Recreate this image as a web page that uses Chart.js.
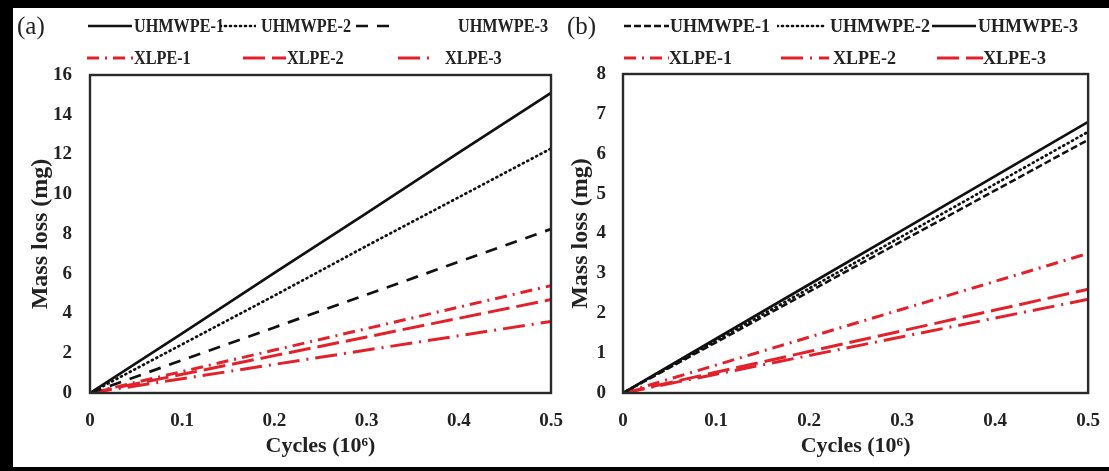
<!DOCTYPE html>
<html><head><meta charset="utf-8">
<script src="https://cdn.jsdelivr.net/npm/chart.js@4.4.1/dist/chart.umd.min.js"></script>
<style>
html,body{margin:0;padding:0;background:#fff;}
body{width:1109px;height:471px;position:relative;overflow:hidden;font-family:"Liberation Serif","Times New Roman",serif;}
.bar{position:absolute;background:#000;}
.cv{position:absolute;top:0;}
.panel{position:absolute;font-size:25px;color:#222;line-height:1;}
.sw{position:absolute;display:block;}
.lt{position:absolute;font-weight:bold;font-size:18px;line-height:20px;height:20px;color:#222;white-space:nowrap;transform-origin:left center;}
</style></head>
<body>
<div class="bar" style="left:0;top:0;width:1109px;height:8px"></div>
<div class="bar" style="left:0;top:0;width:13px;height:471px"></div>
<div class="bar" style="left:0;top:467px;width:1109px;height:4px"></div>
<canvas id="ca" class="cv" style="left:0" width="580" height="471"></canvas>
<canvas id="cb" class="cv" style="left:560px" width="549" height="471"></canvas>
<div class="panel" style="left:17px;top:13px">(a)</div>
<div class="panel" style="left:567px;top:13px">(b)</div>
<div id="legends"></div>
<script>
// ---- data ----
const cycles = [0, 0.1, 0.2, 0.3, 0.4, 0.5];
const xTicks = [0, 0.1, 0.2, 0.3, 0.4, 0.5];
const yTicksA = [0, 2, 4, 6, 8, 10, 12, 14, 16];
const yTicksB = [0, 1, 2, 3, 4, 5, 6, 7, 8];
const namesA = ['UHMWPE-1', 'UHMWPE-2', 'UHMWPE-3', 'XLPE-1', 'XLPE-2', 'XLPE-3'];
const namesB = ['UHMWPE-1', 'UHMWPE-2', 'UHMWPE-3', 'XLPE-1', 'XLPE-2', 'XLPE-3'];
// panel (a)
const aU1 = [0, 3.0, 6.05, 9.05, 12.1, 15.1];
const aU2 = [0, 2.45, 4.9, 7.4, 9.85, 12.3];
const aU3 = [0, 1.65, 3.3, 4.95, 6.6, 8.25];
const aX1 = [0, 1.08, 2.16, 3.24, 4.32, 5.4];
const aX2 = [0, 0.94, 1.88, 2.82, 3.76, 4.7];
const aX3 = [0, 0.72, 1.44, 2.16, 2.88, 3.6];
// panel (b)
const bU1 = [0, 1.27, 2.54, 3.81, 5.08, 6.35];
const bU2 = [0, 1.31, 2.62, 3.93, 5.24, 6.55];
const bU3 = [0, 1.36, 2.72, 4.08, 5.44, 6.8];
const bX1 = [0, 0.7, 1.4, 2.1, 2.8, 3.5];
const bX2 = [0, 0.47, 0.94, 1.41, 1.88, 2.35];
const bX3 = [0, 0.52, 1.04, 1.56, 2.08, 2.6];

// ---- styles ----
const BLACK = '#111';
const RED = '#e3212b';
const S = {
  solid:   {color: BLACK, dash: [], width: 2.7, cap: 'butt'},
  dotted:  {color: BLACK, dash: [1, 4], width: 2.7, cap: 'round'},
  dashedL: {color: BLACK, dash: [12, 9], width: 2.7, cap: 'butt'},
  dashedS: {color: BLACK, dash: [7, 3], width: 2.5, cap: 'butt'},
  dashDot: {color: RED, dash: [12, 6, 2, 6], width: 3, cap: 'butt'},
  longDash:{color: RED, dash: [22, 7], width: 3, cap: 'butt'},
  longDashDot:{color: RED, dash: [22, 7, 2, 7], width: 3, cap: 'butt'}
};
const stylesA = [S.solid, S.dotted, S.dashedL, S.dashDot, S.longDash, S.longDashDot];
const stylesB = [S.dashedS, S.dotted, S.solid, S.dashDot, S.longDashDot, S.longDash];

function ds(name, vals, st) {
  return {
    label: name,
    data: cycles.map((c, i) => ({x: c, y: vals[i]})),
    borderColor: st.color, borderWidth: st.width, borderDash: st.dash,
    borderCapStyle: st.cap, pointRadius: 0, tension: 0, fill: false
  };
}

const boxPlugin = {
  id: 'box',
  afterDatasetsDraw(chart) {
    const {ctx, chartArea: a} = chart;
    ctx.save();
    ctx.strokeStyle = '#2a2a2a';
    ctx.lineWidth = 2.4;
    ctx.strokeRect(a.left, a.top, a.right - a.left, a.bottom - a.top);
    ctx.restore();
  }
};

function makeChart(id, sets, yTicks, yMax, geo) {
  const tickFont = {family: 'Liberation Serif', weight: 'bold', size: 19};
  return new Chart(document.getElementById(id), {
    type: 'line',
    data: {datasets: sets},
    options: {
      responsive: false, animation: false, devicePixelRatio: 1,
      layout: {padding: {left: 0, right: geo.padR, top: geo.top, bottom: 0}},
      plugins: {legend: {display: false}, tooltip: {enabled: false}},
      scales: {
        x: {
          type: 'linear', min: 0, max: 0.5,
          afterBuildTicks: s => { s.ticks = xTicks.map(v => ({value: v})); },
          afterFit: s => { s.height = 471 - geo.bottom; },
          grid: {display: false}, border: {display: false},
          ticks: {font: tickFont, color: '#222', padding: 9, maxRotation: 0,
                  callback: v => String(v)},
          title: {display: true, text: 'Cycles (10\u2076)', color: '#222',
                  font: {family: 'Liberation Serif', weight: 'bold', size: 22},
                  padding: {top: 0, bottom: 11}}
        },
        y: {
          type: 'linear', min: 0, max: yMax,
          afterBuildTicks: s => { s.ticks = yTicks.map(v => ({value: v})); },
          afterFit: s => { s.width = geo.left; },
          grid: {display: false}, border: {display: false},
          ticks: {font: tickFont, color: '#222', padding: geo.tickPad},
          title: {display: true, text: 'Mass loss (mg)', color: '#222',
                  font: {family: 'Liberation Serif', weight: 'bold', size: 24},
                  padding: {top: geo.titlePad, bottom: 0}}
        }
      }
    },
    plugins: [boxPlugin]
  });
}

makeChart('ca', namesA.map((n, i) => ds(n, [aU1, aU2, aU3, aX1, aX2, aX3][i], stylesA[i])),
  yTicksA, 16, {left: 90, padR: 29, top: 75, bottom: 393, titlePad: 26, tickPad: 10});
makeChart('cb', namesB.map((n, i) => ds(n, [bU1, bU2, bU3, bX1, bX2, bX3][i], stylesB[i])),
  yTicksB, 8, {left: 63, padR: 19, top: 74, bottom: 393, titlePad: 6, tickPad: 9});

// ---- HTML legends ----
function legItem(sx, sw, tx, y, st, name, sc) {
  const host = document.getElementById('legends');
  const dash = st.dash.length ? st.dash.join(' ') : 'none';
  const svg = document.createElementNS('http://www.w3.org/2000/svg', 'svg');
  svg.setAttribute('class', 'sw');
  svg.setAttribute('width', sw);
  svg.setAttribute('height', 10);
  svg.style.left = sx + 'px';
  svg.style.top = (y - 5) + 'px';
  svg.innerHTML = `<line x1="0" y1="5" x2="${sw}" y2="5" stroke="${st.color}" stroke-width="${st.width}" stroke-dasharray="${dash}" stroke-linecap="${st.cap}"/>`;
  host.appendChild(svg);
  const t = document.createElement('div');
  t.className = 'lt';
  t.textContent = name;
  t.style.left = tx + 'px';
  t.style.top = (y - 10) + 'px';
  t.style.transform = `scaleX(${sc})`;
  host.appendChild(t);
}
// [sampleX, sampleWidth, textX, rowCenterY]
const legPosA = [[88, 44, 134, 26], [220, 36, 261, 26], [356, 40, 458, 26],
                 [87, 46, 134, 58], [243, 43, 287, 58], [398, 36, 445, 58]];
const legPosB = [[624, 45, 670, 26], [777, 48, 830, 26], [932, 44, 978, 26],
                 [624, 45, 669, 58], [781, 48, 833, 58], [937, 46, 983, 58]];
namesA.forEach((n, i) => legItem(...legPosA[i], stylesA[i], n, 0.9));
namesB.forEach((n, i) => legItem(...legPosB[i], stylesB[i], n, 1.0));
</script>
</body></html>
